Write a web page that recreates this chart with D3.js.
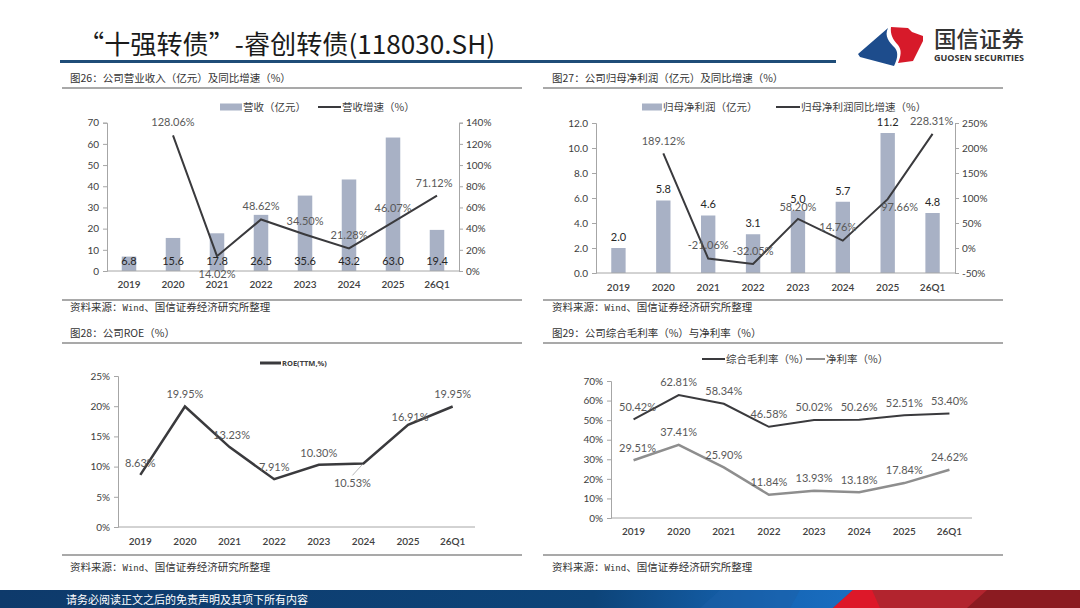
<!DOCTYPE html>
<html><head><meta charset="utf-8">
<script src="https://cdn.jsdelivr.net/npm/d3@7/dist/d3.min.js"></script>
<style>
html,body{margin:0;padding:0;background:#fff;}
svg{display:block;}
</style></head>
<body>
<svg id="c" width="1080" height="608"></svg>
<script>
// ---------------- DATA ----------------
const categories = ["2019","2020","2021","2022","2023","2024","2025","26Q1"];
const revenue = [6.8,15.6,17.8,26.5,35.6,43.2,63.0,19.4];
const revenueGrowth = [null,128.06,14.02,48.62,34.50,21.28,46.07,71.12];
const netProfit = [2.0,5.8,4.6,3.1,5.0,5.7,11.2,4.8];
const netProfitGrowth = [null,189.12,-21.06,-32.05,58.20,14.76,97.66,228.31];
const roe = [8.63,19.95,13.23,7.91,10.30,10.53,16.91,19.95];
const grossMargin = [50.42,62.81,58.34,46.58,50.02,50.26,52.51,53.40];
const netMargin = [29.51,37.41,25.90,11.84,13.93,13.18,17.84,24.62];

const revTicks = [0,10,20,30,40,50,60,70];
const revGrowthTicks = [0,20,40,60,80,100,120,140];
const npTicks = [0,2,4,6,8,10,12];
const npGrowthTicks = [-50,0,50,100,150,200,250];
const roeTicks = [0,5,10,15,20,25];
const marginTicks = [0,10,20,30,40,50,60,70];

const title = "“十强转债”-睿创转债(118030.SH)";
const fig26 = "图26：公司营业收入（亿元）及同比增速（%）";
const fig27 = "图27：公司归母净利润（亿元）及同比增速（%）";
const fig28 = "图28：公司ROE（%）";
const fig29 = "图29：公司综合毛利率（%）与净利率（%）";
const leg26 = ["营收（亿元）","营收增速（%）"];
const leg27 = ["归母净利润（亿元）","归母净利润同比增速（%）"];
const leg28 = ["ROE(TTM,%)"];
const leg29 = ["综合毛利率（%）","净利率（%）"];
const footerText = "请务必阅读正文之后的免责声明及其项下所有内容";

// ---------------- STYLE ----------------
const CJK = "'Noto Sans CJK SC','Noto Sans',sans-serif";
const NUM = "Lato,'Noto Sans CJK SC',sans-serif";
const BAR = "#A8B1C5";
const LINE = "#3A3A3D";
const LINE2 = "#8E8E8E";
const AXIS = "#A6A6A6";
const TXT = "#404040";
const LBL = "#595959";

const svg = d3.select("#c");

// ---------------- HEADER ----------------
svg.append("text").attr("x",78).attr("y",54).text(title)
  .attr("font-family",CJK).attr("font-size",26).attr("font-weight",400).attr("fill","#1a1a1a")
  .attr("textLength",417).attr("lengthAdjust","spacingAndGlyphs");
svg.append("rect").attr("x",60).attr("y",60).attr("width",776).attr("height",3).attr("fill","#1F4D78");

// logo
const logo = svg.append("g");
logo.append("path").attr("d","M858,54 L888,28 C884,36 889,42 895,48 C899,53 897,60 894,66 L860,57 Z").attr("fill","#1D4C8C");
logo.append("path").attr("d","M891,27 L908,28 L912,32 L923,36 L923,41 L913,61 L898,63 C901,56 902,50 898,45 C893,40 890,34 891,27 Z").attr("fill","#D71A2A");
svg.append("text").attr("x",934).attr("y",47).text("国信证券")
  .attr("font-family",CJK).attr("font-size",22).attr("font-weight",500).attr("fill","#333")
  .attr("textLength",90).attr("lengthAdjust","spacingAndGlyphs");
svg.append("text").attr("x",934).attr("y",61).text("GUOSEN SECURITIES")
  .attr("font-family","'Open Sans',sans-serif").attr("font-size",8).attr("font-weight",700).attr("fill","#333")
  .attr("textLength",90).attr("lengthAdjust","spacingAndGlyphs");

// ---------------- PANEL FRAMES ----------------
function frame(x0,x1,txtX,subY,ruleTop,ruleBot,srcY,sub){
  svg.append("text").attr("x",txtX).attr("y",subY).attr("dy","0.35em").text(sub)
    .attr("font-family",CJK).attr("font-size",10.5).attr("fill","#333");
  svg.append("line").attr("x1",x0).attr("x2",x1).attr("y1",ruleTop).attr("y2",ruleTop).attr("stroke","#555").attr("stroke-width",1.2);
  svg.append("line").attr("x1",x0).attr("x2",x1).attr("y1",ruleBot).attr("y2",ruleBot).attr("stroke","#555").attr("stroke-width",1.2);
  const t = svg.append("text").attr("x",txtX).attr("y",srcY).attr("dy","0.35em")
    .attr("font-family",CJK).attr("font-size",10.5).attr("fill","#333");
  t.append("tspan").text("资料来源：");
  t.append("tspan").text("Wind").attr("font-family","'DejaVu Sans Mono',monospace").attr("font-size",9);
  t.append("tspan").text("、国信证券经济研究所整理");
}
frame(62,522,70,78,88,300,307,fig26);
frame(543,1003,552,78,88,300,307,fig27);
frame(62,522,70,333,343,555,567,fig28);
frame(543,1003,552,333,343,555,567,fig29);

// ---------------- HELPERS ----------------
function styleAxis(g){
  g.select(".domain").attr("stroke",AXIS);
  g.selectAll(".tick line").attr("stroke",AXIS);
  g.selectAll(".tick text").attr("font-family",NUM).attr("font-size",10).attr("fill",TXT);
}
function xLabels(g,x,y){
  g.selectAll(null).data(categories).enter().append("text")
    .attr("x",d=>x(d)+x.bandwidth()/2).attr("y",y).attr("dy","0.35em")
    .attr("text-anchor","middle").text(d=>d)
    .attr("font-family",NUM).attr("font-size",10).attr("font-weight",600).attr("fill",TXT);
}
function txt(g,x,y,s,size,fill,anchor){
  return g.append("text").attr("x",x).attr("y",y).attr("dy","0.35em").text(s)
    .attr("font-family",NUM).attr("font-size",size).attr("fill",fill).attr("text-anchor",anchor||"middle");
}
function legendItem(g,type,x0,x1,y,label,color,w){
  if(type==="bar") g.append("rect").attr("x",x0).attr("y",y-3.5).attr("width",x1-x0).attr("height",7).attr("fill",color);
  else g.append("line").attr("x1",x0).attr("x2",x1).attr("y1",y).attr("y2",y).attr("stroke",color).attr("stroke-width",w||2);
  if(label) g.append("text").attr("x",x1+1).attr("y",y).attr("dy","0.35em").text(label)
    .attr("font-family",CJK).attr("font-size",10.5).attr("fill",TXT);
}
const pct2 = v=>v.toFixed(2)+"%";

// ---------------- CHART 26 ----------------
(function(){
  const g = svg.append("g");
  const L=107,R=459,T=122.7,B=271;
  const x = d3.scaleBand().domain(categories).range([L,R]);
  const yL = d3.scaleLinear().domain([0,70]).range([B,T]);
  const yR = d3.scaleLinear().domain([0,140]).range([B,T]);
  const bw = x.bandwidth()*0.33;
  g.selectAll(null).data(revenue).enter().append("rect")
    .attr("x",(d,i)=>x(categories[i])+(x.bandwidth()-bw)/2).attr("width",bw)
    .attr("y",d=>yL(d)).attr("height",d=>B-yL(d)).attr("fill",BAR);
  const al = g.append("g").attr("transform",`translate(${L},0)`).call(d3.axisLeft(yL).tickValues(revTicks).tickSize(4).tickPadding(4));
  styleAxis(al);
  const ar = g.append("g").attr("transform",`translate(${R},0)`).call(d3.axisRight(yR).tickValues(revGrowthTicks).tickSize(4).tickPadding(3).tickFormat(d=>d+"%"));
  styleAxis(ar);
  g.append("line").attr("x1",L).attr("x2",R).attr("y1",B).attr("y2",B).attr("stroke",AXIS);
  xLabels(g,x,284);
  const cx = i=>x(categories[i])+x.bandwidth()/2;
  const pts = revenueGrowth.map((v,i)=>[i,v]).filter(d=>d[1]!==null);
  g.append("path").attr("d",d3.line().x(d=>cx(d[0])).y(d=>yR(d[1]))(pts))
    .attr("fill","none").attr("stroke",LINE).attr("stroke-width",2);
  revenue.forEach((v,i)=>txt(g,cx(i),B-9.5,v.toFixed(1),11,"#262626"));
  const dys = [0,-13,18,-13,-13,-13,-14,-13];
  const dxs = [0,0,0,0,0,0,0,-3];
  pts.forEach(d=>txt(g,cx(d[0])+dxs[d[0]],yR(d[1])+dys[d[0]],pct2(d[1]),11,LBL));
  legendItem(g,"bar",220,242,107,leg26[0],BAR);
  legendItem(g,"line",318,341,107,leg26[1],LINE);
})();

// ---------------- CHART 27 ----------------
(function(){
  const g = svg.append("g");
  const L=596,R=955,T=123,B=273;
  const x = d3.scaleBand().domain(categories).range([L,R]);
  const yL = d3.scaleLinear().domain([0,12]).range([B,T]);
  const yR = d3.scaleLinear().domain([-50,250]).range([B,T]);
  const bw = x.bandwidth()*0.32;
  g.selectAll(null).data(netProfit).enter().append("rect")
    .attr("x",(d,i)=>x(categories[i])+(x.bandwidth()-bw)/2).attr("width",bw)
    .attr("y",d=>yL(d)).attr("height",d=>B-yL(d)).attr("fill",BAR);
  const al = g.append("g").attr("transform",`translate(${L},0)`).call(d3.axisLeft(yL).tickValues(npTicks).tickSize(4).tickPadding(4).tickFormat(d3.format(".1f")));
  styleAxis(al);
  const ar = g.append("g").attr("transform",`translate(${R},0)`).call(d3.axisRight(yR).tickValues(npGrowthTicks).tickSize(4).tickPadding(3).tickFormat(d=>d+"%"));
  styleAxis(ar);
  g.append("line").attr("x1",L).attr("x2",R).attr("y1",B).attr("y2",B).attr("stroke",AXIS);
  xLabels(g,x,287);
  const cx = i=>x(categories[i])+x.bandwidth()/2;
  netProfit.forEach((v,i)=>txt(g,cx(i),yL(v)-11,v.toFixed(1),11,"#262626"));
  const pts = netProfitGrowth.map((v,i)=>[i,v]).filter(d=>d[1]!==null);
  g.append("path").attr("d",d3.line().x(d=>cx(d[0])).y(d=>yR(d[1]))(pts))
    .attr("fill","none").attr("stroke",LINE).attr("stroke-width",2);
  const dys = [0,-12.5,-13.5,-13,-12,-13.5,8,-13];
  const dxs = [0,0,0,0,0,-5,12,-1];
  pts.forEach(d=>txt(g,cx(d[0])+dxs[d[0]],yR(d[1])+dys[d[0]],pct2(d[1]),11,LBL));
  legendItem(g,"bar",642,662,107,leg27[0],BAR);
  legendItem(g,"line",776,800,107,leg27[1],LINE);
})();

// ---------------- CHART 28 ----------------
(function(){
  const g = svg.append("g");
  const L=118,R=475,T=376,B=527;
  const x = d3.scaleBand().domain(categories).range([L,R]);
  const y = d3.scaleLinear().domain([0,25]).range([B,T]);
  const al = g.append("g").attr("transform",`translate(${L},0)`).call(d3.axisLeft(y).tickValues(roeTicks).tickSize(4).tickPadding(4).tickFormat(d=>d+"%"));
  styleAxis(al);
  g.append("line").attr("x1",L).attr("x2",R).attr("y1",B).attr("y2",B).attr("stroke",AXIS);
  xLabels(g,x,541);
  const cx = i=>x(categories[i])+x.bandwidth()/2;
  g.append("path").attr("d",d3.line().x((d,i)=>cx(i)).y(d=>y(d))(roe))
    .attr("fill","none").attr("stroke",LINE).attr("stroke-width",2.5);
  const dys = [-12,-12.5,-12,-12,-12,20,-8,-12.5];
  const dxs = [0,0,2,0,0,-11,2,0];
  g.append("line").attr("x1",cx(5)-11).attr("y1",y(roe[5])+12).attr("x2",cx(5)-1).attr("y2",y(roe[5])+1)
    .attr("stroke","#A6A6A6").attr("stroke-width",0.8);
  roe.forEach((v,i)=>txt(g,cx(i)+dxs[i],y(v)+dys[i],pct2(v),11,LBL));
  legendItem(g,"line",260,281,363,"",LINE,3);
  g.append("text").attr("x",282).attr("y",363).attr("dy","0.35em").text(leg28[0])
    .attr("font-family","'Open Sans',sans-serif").attr("font-size",7.5).attr("font-weight",700).attr("fill",TXT);
})();

// ---------------- CHART 29 ----------------
(function(){
  const g = svg.append("g");
  const L=611,R=972,T=381,B=518;
  const x = d3.scaleBand().domain(categories).range([L,R]);
  const y = d3.scaleLinear().domain([0,70]).range([B,T]);
  const al = g.append("g").attr("transform",`translate(${L},0)`).call(d3.axisLeft(y).tickValues(marginTicks).tickSize(4).tickPadding(4).tickFormat(d=>d+"%"));
  styleAxis(al);
  g.append("line").attr("x1",L).attr("x2",R).attr("y1",B).attr("y2",B).attr("stroke",AXIS);
  xLabels(g,x,531);
  const cx = i=>x(categories[i])+x.bandwidth()/2;
  const ln = d3.line().x((d,i)=>cx(i)).y(d=>y(d));
  g.append("path").attr("d",ln(grossMargin)).attr("fill","none").attr("stroke",LINE).attr("stroke-width",2);
  g.append("path").attr("d",ln(netMargin)).attr("fill","none").attr("stroke",LINE2).attr("stroke-width",2.5);
  grossMargin.forEach((v,i)=>txt(g,cx(i)+(i===0?4:0),y(v)-12.5,pct2(v),11,LBL));
  netMargin.forEach((v,i)=>txt(g,cx(i)+(i===0?4:0),y(v)-12.5,pct2(v),11,LBL));
  legendItem(g,"line",702,725,359,leg29[0],LINE);
  legendItem(g,"line",806,825,359,leg29[1],LINE2);
})();

// ---------------- FOOTER ----------------
const defs = svg.append("defs");
const gr = defs.append("linearGradient").attr("id","fb").attr("x1","0").attr("x2","1").attr("y1","0").attr("y2","0");
gr.append("stop").attr("offset","0").attr("stop-color","#0E3A6B");
gr.append("stop").attr("offset","0.55").attr("stop-color","#0D4479");
gr.append("stop").attr("offset","0.72").attr("stop-color","#1666B6");
gr.append("stop").attr("offset","0.8").attr("stop-color","#1A6FC2");
svg.append("rect").attr("x",0).attr("y",590).attr("width",1080).attr("height",18).attr("fill","url(#fb)");
svg.append("polygon").attr("points","720,590 800,590 790,608 700,608").attr("fill","#1C5FA8").attr("opacity",0.5);
svg.append("polygon").attr("points","833,608 853,590 1080,590 1080,608").attr("fill","#B2242E");
svg.append("polygon").attr("points","833,608 853,590 872,590 880,608").attr("fill","#DD1829");
svg.append("polygon").attr("points","967,608 987,590 1080,590 1080,608").attr("fill","#8B1B21");
svg.append("text").attr("x",66).attr("y",600.5).attr("dy","0.35em").text(footerText)
  .attr("font-family",CJK).attr("font-size",11).attr("fill","#fff");
</script>
</body></html>
